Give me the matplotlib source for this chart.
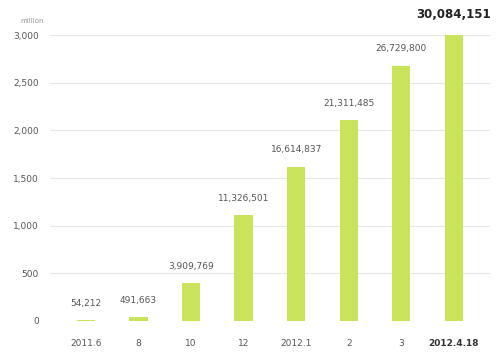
import matplotlib.pyplot as plt

# data
periods = ["2011.6", "8", "10", "12", "2012.1", "2", "3", "2012.4.18"]
heights = [8, 45, 395, 1110, 1620, 2110, 2680, 3010]
labels = ["54,212", "491,663", "3,909,769", "11,326,501", "16,614,837",
          "21,311,485", "26,729,800", "30,084,151"]
yticks = [0, 500, 1000, 1500, 2000, 2500, 3000]

bar_color = "#c9e35a"
text_color = "#555555"

fig = plt.figure(figsize=(4.97, 3.53), dpi=100)
ax = fig.add_axes([0.1006, 0.0907, 0.885, 0.810])

x = list(range(len(periods)))
ax.bar(x, heights, width=0.35, color=bar_color, zorder=2)

ax.set_ylim(0, 3000)
ax.set_xlim(-0.685, 7.685)
ax.set_yticks(yticks)
ax.set_yticklabels([f"{v:,}" for v in yticks])
ax.yaxis.grid(True, color="#e6e6e6", linewidth=0.8, zorder=0)
ax.set_xticks(x)
ax.set_xticklabels(periods)

for s in ax.spines.values():
    s.set_visible(False)
ax.tick_params(axis="both", length=0, labelsize=6.5, colors=text_color)
ax.tick_params(axis="x", pad=13)
ax.tick_params(axis="y", pad=8)
ax.get_xticklabels()[-1].set_fontweight("bold")
ax.get_xticklabels()[-1].set_color("#333333")

# value labels above the bars
for i, (h, lab) in enumerate(zip(heights, labels)):
    if i == len(labels) - 1:
        ax.annotate(lab, (i, h), xytext=(0, 14), textcoords="offset points",
                    ha="center", va="center", fontsize=8.5, fontweight="bold",
                    color="#222222", annotation_clip=False)
    else:
        ax.annotate(lab, (i, h), xytext=(0, 12), textcoords="offset points",
                    ha="center", va="center", fontsize=6.5, color=text_color,
                    annotation_clip=False)

fig.text(0.04, 0.935, "million", fontsize=5, color="#999999")

fig.savefig("out.png", dpi=100, facecolor="white")
